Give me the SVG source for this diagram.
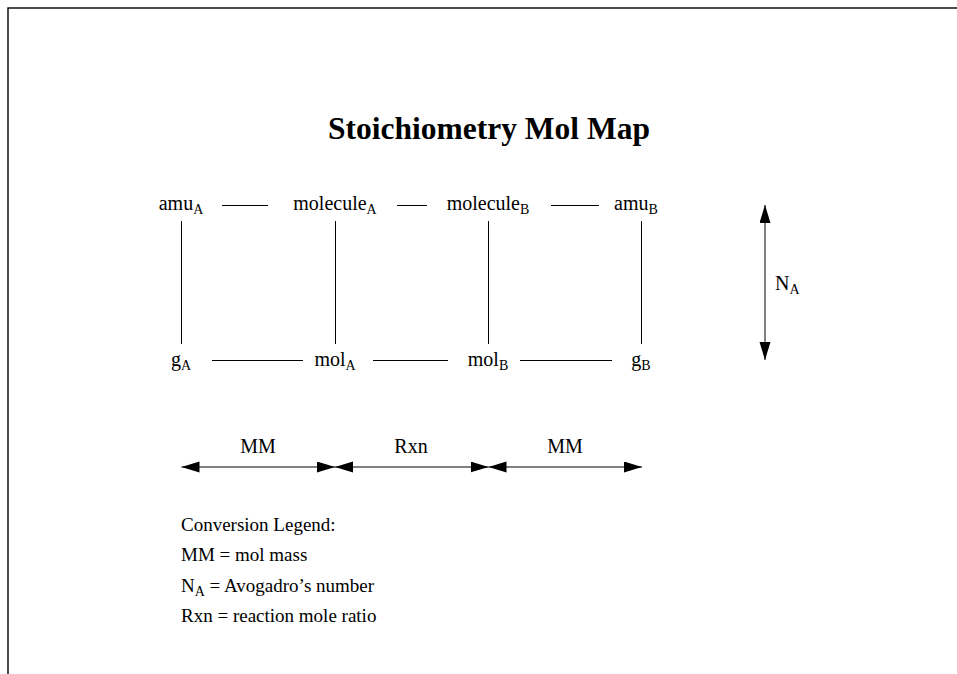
<svg xmlns="http://www.w3.org/2000/svg" width="957" height="674" viewBox="0 0 957 674">
<style>
text{font-family:"Liberation Serif","Times New Roman",serif;fill:#000}
.lbl{font-size:20px;text-anchor:middle}
.sub{font-size:14px}
.leg{font-size:19px}
.title{font-size:31.5px;font-weight:bold;text-anchor:middle}
.ln{stroke:#000;stroke-width:1;fill:none}
.arr{stroke:#000;stroke-width:1;fill:none;marker-start:url(#ah);marker-end:url(#ah)}
</style>
<defs>
<marker id="ah" markerUnits="userSpaceOnUse" markerWidth="19" markerHeight="12" refX="18" refY="5.5" orient="auto-start-reverse">
<path d="M0,0 L18,5.5 L0,11 z" fill="#000"/>
</marker>
</defs>
<rect x="8" y="8" width="2000" height="2000" fill="none" stroke="#000" stroke-width="1.4"/>
<g id="title"><text class="title" x="489" y="139">Stoichiometry Mol Map</text></g>
<g id="connectors">
<line class="ln" x1="222" y1="205.5" x2="268" y2="205.5"/>
<line class="ln" x1="397" y1="205.5" x2="427" y2="205.5"/>
<line class="ln" x1="551" y1="205.5" x2="599" y2="205.5"/>
<line class="ln" x1="212" y1="360.5" x2="303" y2="360.5"/>
<line class="ln" x1="373" y1="360.5" x2="448" y2="360.5"/>
<line class="ln" x1="520" y1="360.5" x2="612" y2="360.5"/>
<line class="ln" x1="181.5" y1="221" x2="181.5" y2="344"/>
<line class="ln" x1="335.5" y1="221" x2="335.5" y2="344"/>
<line class="ln" x1="488.5" y1="221" x2="488.5" y2="344"/>
<line class="ln" x1="641.5" y1="221" x2="641.5" y2="344"/>
<line class="arr" x1="765" y1="205" x2="765" y2="360"/>
<line class="arr" x1="181.5" y1="467" x2="335" y2="467"/>
<line class="arr" x1="335" y1="467" x2="488.5" y2="467"/>
<line class="arr" x1="488.5" y1="467" x2="642" y2="467"/>
</g>
<g id="amuA"><text class="lbl" x="181" y="210">amu<tspan class="sub" dy="4">A</tspan></text></g>
<g id="moleculeA"><text class="lbl" x="335" y="210">molecule<tspan class="sub" dy="4">A</tspan></text></g>
<g id="moleculeB"><text class="lbl" x="488" y="210">molecule<tspan class="sub" dy="4">B</tspan></text></g>
<g id="amuB"><text class="lbl" x="614" y="210" style="text-anchor:start">amu<tspan class="sub" dy="4">B</tspan></text></g>
<g id="gA"><text class="lbl" x="181" y="366">g<tspan class="sub" dy="4">A</tspan></text></g>
<g id="molA"><text class="lbl" x="335" y="366">mol<tspan class="sub" dy="4">A</tspan></text></g>
<g id="molB"><text class="lbl" x="488" y="366">mol<tspan class="sub" dy="4">B</tspan></text></g>
<g id="gB"><text class="lbl" x="641" y="366">g<tspan class="sub" dy="4">B</tspan></text></g>
<g id="na-label"><text class="lbl" x="775" y="290" style="text-anchor:start">N<tspan class="sub" dy="4">A</tspan></text></g>
<g id="mm1"><text class="lbl" x="258" y="453">MM</text></g>
<g id="rxn"><text class="lbl" x="411" y="453">Rxn</text></g>
<g id="mm2"><text class="lbl" x="565" y="453">MM</text></g>
<g id="legend">
<text class="leg" x="181" y="531">Conversion Legend:</text>
<text class="leg" x="181" y="561">MM = mol mass</text>
<text class="leg" x="181" y="592">N<tspan class="sub" dy="4">A</tspan><tspan dy="-4"> = Avogadro’s number</tspan></text>
<text class="leg" x="181" y="622">Rxn = reaction mole ratio</text>
</g>
</svg>
